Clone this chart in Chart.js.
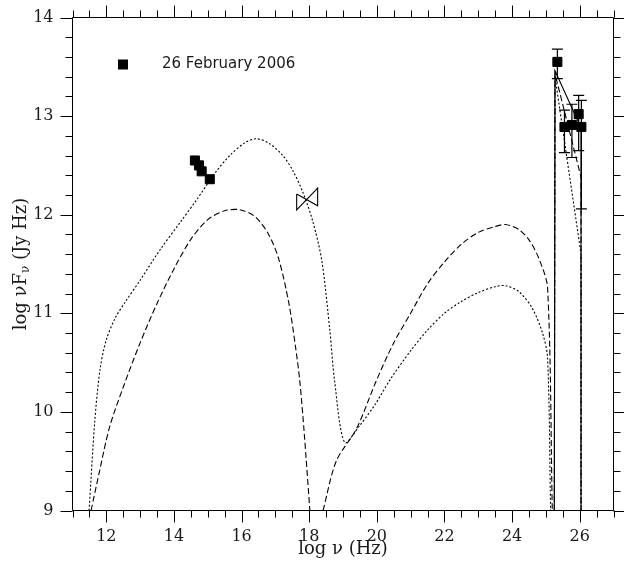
<!DOCTYPE html>
<html>
<head>
<meta charset="utf-8">
<script src="https://cdn.jsdelivr.net/npm/chart.js@4.4.0/dist/chart.umd.min.js"></script>
<style>
  html, body { margin: 0; padding: 0; background: #fff; }
</style>
</head>
<body>
<canvas id="sed-chart" width="624" height="574"></canvas>
<script>
// Observed points, 26 February 2006 (optical and VHE)
const obsLogNu     = [14.62, 14.74, 14.82, 15.06, 25.34, 25.55, 25.77, 25.97, 26.05];
const obsLogNuFnu  = [12.55, 12.50, 12.44, 12.36, 13.55, 12.89, 12.91, 13.02, 12.89];
const obsErrLow    = [null, null, null, null, 13.38, 12.63, 12.58, 12.65, 12.06];
const obsErrHigh   = [null, null, null, null, 13.68, 13.06, 13.12, 13.21, 13.16];

// X-ray bowtie outline
const bowLogNu    = [17.63, 18.25, 18.25, 17.63, 17.63];
const bowLogNuFnu = [12.21, 12.09, 12.27, 12.05, 12.21];

// Model 1 (dotted): synchrotron + inverse Compton
const dotLogNu = [11.49, 11.66, 11.81, 11.99, 12.26, 12.55, 12.99, 13.58, 14.18, 14.67, 15.21, 15.65,
  16.10, 16.45, 16.83, 17.22, 17.51, 17.81, 18.10, 18.37, 18.61, 18.75, 19.05, 19.49, 19.94, 20.38,
  21.0, 21.5, 22.0, 22.5, 23.0, 23.5, 23.8, 24.2, 24.6, 24.9, 25.05, 25.14];
const dotLogNuFnu = [9.0, 9.91, 10.42, 10.72, 10.95, 11.11, 11.33, 11.64, 11.92, 12.15, 12.42, 12.60,
  12.73, 12.77, 12.72, 12.60, 12.45, 12.23, 11.94, 11.54, 10.83, 10.32, 9.69, 9.86, 10.07, 10.32,
  10.62, 10.83, 11.0, 11.12, 11.21, 11.27, 11.28, 11.22, 11.05, 10.8, 10.55, 9.0];

// Model 2 (dashed); null splits the two humps
const dashLogNu = [11.55, 11.8, 12.1, 12.5, 13.0, 13.5, 14.0, 14.5, 15.0, 15.5, 15.95, 16.4, 16.8,
  17.1, 17.4, 17.6, 17.72, 17.85, 18.02, 18.2, 18.41, 18.8, 19.4, 19.99, 20.5, 21.0, 21.5, 22.0,
  22.5, 23.0, 23.5, 23.8, 24.2, 24.51, 24.8, 25.05, 25.19];
const dashLogNuFnu = [9.0, 9.4, 9.85, 10.25, 10.7, 11.1, 11.45, 11.75, 11.95, 12.04, 12.05, 11.98, 11.8,
  11.55, 11.1, 10.65, 10.32, 9.8, 9.0, null, 9.0, 9.5, 9.83, 10.32, 10.7, 11.0, 11.3, 11.52,
  11.7, 11.82, 11.88, 11.9, 11.85, 11.74, 11.55, 11.26, 9.0];

// VHE model segments
const vheLogNu        = [25.25, 25.27, 26.04, 26.04];
const vheSolidFnu     = [9.0, 13.46, 12.88, 9.0];
const vheDashFnu      = [9.0, 13.43, 12.38, 9.0];
const vheDotFnu       = [9.0, 13.40, 11.60, 9.0];

// axis ticks
const xMajorTicks = [12, 14, 16, 18, 20, 22, 24, 26];
const xMinorStep = 0.5;
const yMajorTicks = [9, 10, 11, 12, 13, 14];
const yMinorStep = 0.2;

const toPoints = (xs, ys) => xs.map((x, i) => ({ x: x, y: ys[i] }));

const serif = '"DejaVu Serif", "Liberation Serif", serif';
const ink = '#1a1a1a';

// frame box plus outward ticks on all four sides
const frameTicks = {
  id: 'frameTicks',
  afterDraw(chart) {
    const { ctx, chartArea: a, scales: { x, y } } = chart;
    const majorLen = 12, minorLen = 7;
    ctx.save();
    ctx.strokeStyle = '#000';
    ctx.lineWidth = 1;
    ctx.beginPath();
    ctx.rect(a.left, a.top, a.right - a.left, a.bottom - a.top);
    const nx = Math.round((x.max - x.min) / xMinorStep);
    for (let i = 0; i <= nx; i++) {
      const v = x.min + i * xMinorStep;
      const len = xMajorTicks.some(t => Math.abs(t - v) < 1e-6) ? majorLen : minorLen;
      const px = Math.round(x.getPixelForValue(v)) + 0.5;
      ctx.moveTo(px, a.bottom); ctx.lineTo(px, a.bottom + len);
      ctx.moveTo(px, a.top); ctx.lineTo(px, a.top - len);
    }
    const ny = Math.round((y.max - y.min) / yMinorStep);
    for (let i = 0; i <= ny; i++) {
      const v = y.min + i * yMinorStep;
      const len = yMajorTicks.some(t => Math.abs(t - v) < 1e-6) ? majorLen : minorLen;
      const py = Math.round(y.getPixelForValue(v)) + 0.5;
      ctx.moveTo(a.left, py); ctx.lineTo(a.left - len, py);
      ctx.moveTo(a.right, py); ctx.lineTo(a.right + len, py);
    }
    ctx.stroke();
    ctx.restore();
  }
};

// vertical error bars with caps for points that have them
const errorBars = {
  id: 'errorBars',
  afterDatasetsDraw(chart) {
    const { ctx, scales: { x, y } } = chart;
    ctx.save();
    ctx.strokeStyle = '#000';
    ctx.lineWidth = 1.2;
    ctx.beginPath();
    obsLogNu.forEach((nu, i) => {
      if (obsErrLow[i] === null) return;
      const px = x.getPixelForValue(nu);
      const lo = y.getPixelForValue(obsErrLow[i]);
      const hi = y.getPixelForValue(obsErrHigh[i]);
      ctx.moveTo(px, lo); ctx.lineTo(px, hi);
      ctx.moveTo(px - 5.5, lo); ctx.lineTo(px + 5.5, lo);
      ctx.moveTo(px - 5.5, hi); ctx.lineTo(px + 5.5, hi);
    });
    ctx.stroke();
    ctx.restore();
  }
};

// single legend entry in the upper left of the plot
const insetLegend = {
  id: 'insetLegend',
  afterDraw(chart) {
    const { ctx, chartArea: a } = chart;
    const ds = chart.data.datasets[0];
    const cx = a.left + 50.5, cy = a.top + 47;
    ctx.save();
    ctx.fillStyle = '#000';
    ctx.fillRect(cx - 5, cy - 5, 10, 10);
    ctx.fillStyle = ink;
    ctx.font = '15px "DejaVu Sans", sans-serif';
    ctx.textAlign = 'left';
    ctx.textBaseline = 'middle';
    ctx.fillText(ds.label, cx + 39, cy);
    ctx.restore();
  }
};

// y title with a subscript nu
const yTitle = {
  id: 'yTitle',
  afterDraw(chart) {
    const { ctx, chartArea: a } = chart;
    const parts = [['log \u03bdF', '18px ' + serif, 0], ['\u03bd', '12px ' + serif, 5], [' (Jy Hz)', '18px ' + serif, 0]];
    ctx.save();
    ctx.translate(21, (a.top + a.bottom) / 2);
    ctx.rotate(-Math.PI / 2);
    ctx.fillStyle = ink;
    ctx.textAlign = 'left';
    ctx.textBaseline = 'middle';
    let total = 0;
    parts.forEach(p => { ctx.font = p[1]; total += ctx.measureText(p[0]).width; });
    let tx = -total / 2;
    parts.forEach(p => {
      ctx.font = p[1];
      ctx.fillText(p[0], tx, p[2]);
      tx += ctx.measureText(p[0]).width;
    });
    ctx.restore();
  }
};

const line = (data, dash, tension) => ({
  data: data,
  showLine: true,
  borderColor: '#000',
  borderWidth: 1.1,
  borderDash: dash,
  pointRadius: 0,
  fill: false,
  tension: tension,
  spanGaps: false
});

const sedChart = new Chart(document.getElementById('sed-chart'), {
  type: 'scatter',
  data: {
    datasets: [
      {
        label: '26 February 2006',
        data: toPoints(obsLogNu, obsLogNuFnu),
        pointStyle: 'rect',
        pointRadius: 6.4,
        backgroundColor: '#000',
        borderColor: '#000',
        borderWidth: 1
      },
      line(toPoints(bowLogNu, bowLogNuFnu), [], 0),
      line(toPoints(dotLogNu, dotLogNuFnu), [2, 2], 0.3),
      line(toPoints(dashLogNu, dashLogNuFnu), [6, 3], 0.3),
      line(toPoints(vheLogNu, vheSolidFnu), [], 0),
      line(toPoints(vheLogNu, vheDashFnu), [6, 3], 0),
      line(toPoints(vheLogNu, vheDotFnu), [2, 2], 0)
    ]
  },
  options: {
    responsive: false,
    animation: false,
    layout: { padding: { top: 17.5, right: 10.5, left: 0, bottom: 0 } },
    plugins: { legend: { display: false }, tooltip: { enabled: false } },
    scales: {
      x: {
        type: 'linear',
        min: 11,
        max: 27,
        afterBuildTicks: s => { s.ticks = xMajorTicks.map(v => ({ value: v })); },
        afterFit: s => { s.height = 63.5; s.paddingLeft = 0; s.paddingRight = 0; },
        grid: { display: false, drawTicks: false },
        border: { display: false },
        ticks: { padding: 17, color: ink, font: { family: serif, size: 16 } },
        title: {
          display: true,
          text: 'log \u03bd (Hz)',
          color: ink,
          font: { family: serif, size: 18 },
          padding: { top: 0, bottom: 14 }
        }
      },
      y: {
        type: 'linear',
        min: 9,
        max: 14,
        afterBuildTicks: s => { s.ticks = yMajorTicks.map(v => ({ value: v })); },
        afterFit: s => { s.width = 72.5; s.paddingTop = 0; s.paddingBottom = 0; },
        grid: { display: false, drawTicks: false },
        border: { display: false },
        ticks: { padding: 19, color: ink, font: { family: serif, size: 16 } }
      }
    }
  },
  plugins: [frameTicks, errorBars, insetLegend, yTitle]
});
</script>
</body>
</html>
